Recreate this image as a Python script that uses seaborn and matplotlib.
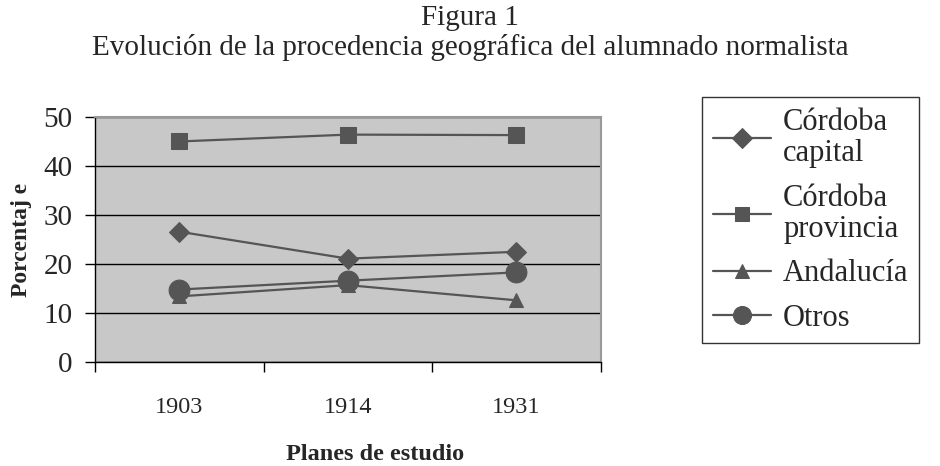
import matplotlib
matplotlib.use("Agg")
import matplotlib.pyplot as plt
import seaborn as sns
import pandas as pd
from matplotlib.ticker import FixedLocator

years = ["1903", "1914", "1931"]
series_names = ["Córdoba\ncapital", "Córdoba\nprovincia", "Andalucía", "Otros"]
cordoba_capital = [26.6, 21.1, 22.5]
cordoba_provincia = [45.0, 46.4, 46.3]
andalucia = [13.4, 15.7, 12.6]
otros = [14.8, 16.6, 18.3]
yticks = [0, 10, 20, 30, 40, 50]

values = [cordoba_capital, cordoba_provincia, andalucia, otros]
rows = []
for name, vals in zip(series_names, values):
    for i, (yr, v) in enumerate(zip(years, vals)):
        rows.append({"pos": i, "year": yr, "serie": name, "valor": v})
df = pd.DataFrame(rows)

sns.set_theme(style="white")
plt.rcParams["font.family"] = ["Liberation Serif", "DejaVu Serif"]

fig = plt.figure(figsize=(9.4, 4.66), dpi=100)
ax = fig.add_axes([0.101, 0.223, 0.538, 0.526])
ax.set_facecolor("#c8c8c8")

col = "#555555"
markers = {series_names[0]: "D", series_names[1]: "s", series_names[2]: "^", series_names[3]: "o"}
sizes_map = {series_names[0]: 10, series_names[1]: 11, series_names[2]: 10, series_names[3]: 15}
leg_sizes = {series_names[0]: 10, series_names[1]: 10, series_names[2]: 10, series_names[3]: 13}

for name in series_names:
    sub = df[df["serie"] == name]
    sns.lineplot(data=sub, x="pos", y="valor", ax=ax, color=col, marker=markers[name],
                 markersize=sizes_map[name], markeredgecolor=col, linewidth=1.6,
                 label=name, legend=False)

ax.set_xlim(-0.5, 2.5)
ax.set_ylim(0, 50)
ax.set_yticks(yticks)
ax.set_yticklabels([str(t) for t in yticks], fontsize=21)
ax.yaxis.grid(True, color="black", linewidth=1.0)
ax.set_axisbelow(True)
ax.set_xticks(range(len(years)))
ax.set_xticklabels(years, fontsize=17.5)
ax.xaxis.set_minor_locator(FixedLocator([-0.5, 0.5, 1.5, 2.5]))
ax.tick_params(axis="x", which="major", length=0, pad=25)
ax.tick_params(axis="x", which="minor", length=7, width=1, color="black", direction="out", bottom=True)
ax.tick_params(axis="y", length=7, width=1, color="black", direction="out", left=True, pad=9)

for s in ["top", "right"]:
    ax.spines[s].set_color("#999999")
    ax.spines[s].set_linewidth(1.5)
ax.spines["left"].set_color("black")
ax.spines["bottom"].set_color("black")
ax.spines["left"].set_linewidth(1.0)
ax.spines["bottom"].set_linewidth(1.0)

ax.set_xlabel("")
ax.set_ylabel("Porcentaj e", fontsize=17, fontweight="bold")
ax.yaxis.set_label_coords(-0.125, 0.5)

fig.text(0.399, 0.024, "Planes de estudio", ha="center", va="center",
         fontsize=17.5, fontweight="bold")
fig.text(0.5, 0.962, "Figura 1", ha="center", va="center", fontsize=21)
fig.text(0.5, 0.897, "Evolución de la procedencia geográfica del alumnado normalista",
         ha="center", va="center", fontsize=21)

handles, labels = ax.get_legend_handles_labels()
leg = fig.legend(handles, labels, loc="upper left", bbox_to_anchor=(0.747, 0.792),
                 fontsize=22, frameon=True, fancybox=False, edgecolor="black",
                 handlelength=1.9, labelspacing=0.5, borderpad=0.35, handletextpad=0.4,
                 borderaxespad=0)
leg.get_frame().set_linewidth(1.0)
for h, name in zip(leg.legend_handles, series_names):
    h.set_markersize(leg_sizes[name])
for t in leg.get_texts():
    t.set_linespacing(1.12)

fig.savefig("out.png", dpi=100)
